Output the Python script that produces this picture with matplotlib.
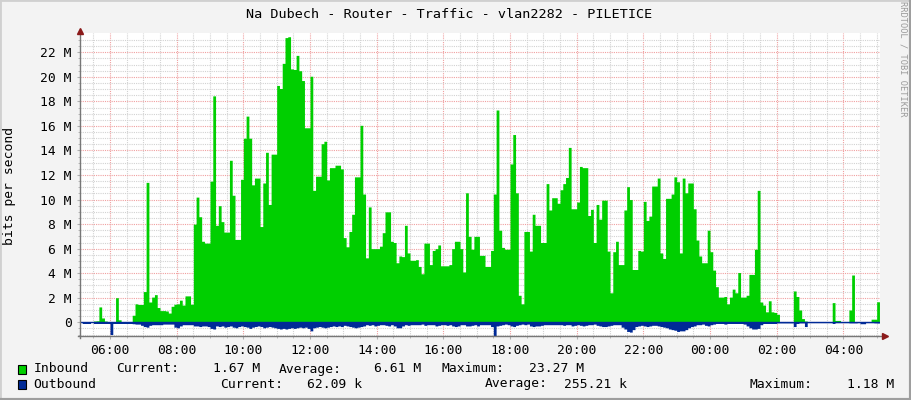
import numpy as np
import pandas as pd
import matplotlib
matplotlib.use("Agg")
import matplotlib.pyplot as plt
import matplotlib.dates as mdates
from matplotlib.lines import Line2D
from matplotlib.patches import Rectangle

title = "Na Dubech - Router - Traffic - vlan2282 - PILETICE"
ylabel = "bits per second"
credit = "RRDTOOL / TOBI OETIKER"

# 5 minute samples, values in Mbit/s
start = "2024-01-01 05:10"
view_start = "2024-01-01 05:06"
step = "5min"

inbound = [
    0.05,
    0.05, 0.03, 0.05, 0.1, 0.12, 1.25, 0.35, 0.1, 0.02, 0.02, 0.02, 2.0,
    0.2, 0.05, 0.05, 0.05, 0.05, 0.57, 1.5, 1.45, 1.45, 2.5, 11.4, 1.65,
    2.05, 2.25, 1.2, 0.95, 0.95, 0.92, 0.75, 1.3, 1.47, 1.5, 1.8, 1.4,
    2.15, 2.15, 1.47, 8.0, 10.2, 8.6, 6.6, 6.45, 6.45, 11.5, 18.45, 7.9,
    9.5, 8.2, 7.35, 7.35, 13.2, 10.35, 6.75, 6.75, 11.65, 15.0, 16.8, 15.0,
    11.2, 11.75, 11.75, 7.8, 11.35, 13.85, 9.6, 13.7, 13.7, 19.3, 19.05, 21.1,
    23.2, 23.27, 20.65, 20.6, 21.75, 20.5, 19.7, 15.85, 15.85, 20.05, 10.75, 11.9,
    11.9, 14.55, 14.75, 11.6, 12.6, 12.6, 12.8, 12.8, 12.5, 6.9, 6.15, 7.4,
    8.8, 11.85, 11.85, 16.05, 10.45, 5.25, 9.4, 6.0, 6.0, 6.0, 6.2, 7.3,
    9.0, 9.0, 6.6, 6.5, 4.85, 5.4, 5.35, 7.9, 5.65, 5.05, 5.05, 5.1,
    4.55, 3.95, 6.45, 6.45, 4.7, 5.85, 6.0, 6.3, 4.6, 4.6, 4.6, 4.7,
    6.0, 6.6, 6.6, 6.0, 4.1, 10.55, 7.0, 5.95, 7.0, 7.0, 5.45, 5.45,
    4.55, 4.55, 5.85, 10.45, 17.3, 7.5, 6.1, 5.95, 5.95, 12.9, 15.3, 10.55,
    2.2, 1.5, 7.4, 7.4, 5.8, 8.8, 7.9, 7.9, 6.5, 6.5, 11.3, 9.15,
    10.15, 10.15, 9.7, 10.8, 11.3, 11.8, 14.25, 9.25, 9.25, 9.8, 12.7, 12.6,
    12.6, 8.7, 9.2, 6.5, 9.6, 8.4, 9.95, 9.95, 5.8, 2.4, 5.75, 6.6,
    4.7, 4.7, 9.15, 11.05, 10.0, 4.3, 4.3, 5.85, 5.8, 9.85, 8.3, 8.65,
    11.1, 11.1, 11.75, 5.65, 5.2, 10.1, 10.1, 10.45, 11.85, 11.45, 5.65, 11.75,
    10.55, 11.35, 11.35, 9.25, 6.7, 5.4, 4.85, 4.85, 7.5, 5.75, 4.25, 2.9,
    2.05, 2.05, 2.1, 1.5, 2.05, 2.7, 2.4, 4.05, 2.05, 2.05, 2.2, 3.9,
    3.9, 5.95, 10.75, 1.65, 1.4, 0.85, 1.75, 0.85, 0.8, 0.65, 0.05, 0.05,
    0.05, 0.05, 0.05, 2.55, 2.1, 1.0, 0.3, 0.1, 0.03, 0.03, 0.03, 0.03,
    0.03, 0.03, 0.03, 0.03, 0.03, 1.6, 0.15, 0.15, 0.03, 0.03, 0.03, 1.0,
    3.85, 0.05, 0.05, 0.05, 0.05, 0.05, 0.05, 0.25, 0.25, 1.67,
]

outbound = [
    0.1,
    0.1, 0.1, 0.0, 0.1, 0.1, 0.1, 0.1, 0.1, 0.1, 1.0, 0.1, 0.1,
    0.1, 0.1, 0.1, 0.1, 0.1, 0.12, 0.15, 0.15, 0.25, 0.35, 0.4, 0.25,
    0.2, 0.2, 0.2, 0.2, 0.15, 0.15, 0.15, 0.15, 0.4, 0.45, 0.3, 0.2,
    0.2, 0.2, 0.2, 0.3, 0.3, 0.35, 0.3, 0.3, 0.35, 0.5, 0.55, 0.3,
    0.35, 0.3, 0.4, 0.35, 0.3, 0.4, 0.45, 0.35, 0.3, 0.35, 0.4, 0.5,
    0.4, 0.35, 0.3, 0.35, 0.45, 0.4, 0.35, 0.4, 0.45, 0.5, 0.55, 0.5,
    0.55, 0.5, 0.45, 0.5, 0.45, 0.4, 0.45, 0.4, 0.5, 0.7, 0.45, 0.4,
    0.35, 0.4, 0.45, 0.4, 0.35, 0.3, 0.35, 0.3, 0.35, 0.25, 0.3, 0.35,
    0.4, 0.45, 0.4, 0.35, 0.3, 0.2, 0.25, 0.2, 0.3, 0.25, 0.2, 0.2,
    0.25, 0.3, 0.2, 0.3, 0.45, 0.45, 0.3, 0.2, 0.25, 0.2, 0.2, 0.2,
    0.2, 0.15, 0.25, 0.2, 0.2, 0.2, 0.3, 0.25, 0.2, 0.2, 0.25, 0.2,
    0.3, 0.35, 0.3, 0.2, 0.2, 0.3, 0.3, 0.25, 0.2, 0.3, 0.2, 0.2,
    0.2, 0.2, 0.35, 1.18, 0.3, 0.25, 0.2, 0.15, 0.2, 0.3, 0.35, 0.25,
    0.2, 0.15, 0.2, 0.15, 0.3, 0.35, 0.3, 0.3, 0.25, 0.2, 0.2, 0.2,
    0.2, 0.2, 0.2, 0.2, 0.25, 0.2, 0.2, 0.3, 0.25, 0.2, 0.25, 0.3,
    0.25, 0.2, 0.2, 0.15, 0.25, 0.3, 0.35, 0.35, 0.3, 0.25, 0.2, 0.2,
    0.2, 0.4, 0.55, 0.75, 0.8, 0.6, 0.35, 0.3, 0.25, 0.3, 0.35, 0.3,
    0.25, 0.25, 0.3, 0.35, 0.4, 0.45, 0.55, 0.6, 0.65, 0.75, 0.7, 0.7,
    0.6, 0.45, 0.35, 0.3, 0.2, 0.2, 0.15, 0.25, 0.3, 0.2, 0.15, 0.1,
    0.1, 0.1, 0.15, 0.1, 0.1, 0.1, 0.1, 0.1, 0.1, 0.15, 0.3, 0.45,
    0.55, 0.55, 0.5, 0.2, 0.1, 0.1, 0.1, 0.1, 0.1, 0.05, 0.05, 0.05,
    0.05, 0.05, 0.05, 0.35, 0.1, 0.05, 0.05, 0.35, 0.03, 0.03, 0.03, 0.03,
    0.03, 0.03, 0.03, 0.03, 0.03, 0.1, 0.03, 0.03, 0.03, 0.03, 0.03, 0.05,
    0.05, 0.05, 0.03, 0.12, 0.12, 0.03, 0.03, 0.03, 0.05, 0.06,
]

ytick_vals = list(range(0, 23, 2))
ytick_labels = ["0"] + ["%d M" % v for v in ytick_vals[1:]]

legend_rows = [
    ("Inbound", "#00CF00",
     [("Current:", 116), ("1.67 M", 213), ("Average:", 279), ("6.61 M", 374),
      ("Maximum:", 441), ("23.27 M", 529)]),
    ("Outbound", "#002A97",
     [("Current:", 220), ("62.09 k", 307), ("Average:", 485), ("255.21 k", 564),
      ("Maximum:", 750), ("1.18 M", 847)]),
]

W, H = 911, 400
font = "DejaVu Sans Mono"
fs = 9.4

times = pd.date_range(start, periods=len(inbound) + 1, freq=step)
inb = np.append(inbound, inbound[-1])
outb = np.append(outbound, outbound[-1])

fig = plt.figure(figsize=(W / 100, H / 100), dpi=100, facecolor="#F3F3F3")
ax = fig.add_axes([80 / W, (H - 336) / H, 800 / W, (336 - 33.3) / H])
ax.set_facecolor("white")

ax.fill_between(times, 0, inb, step="post", color="#00CF00", lw=0)
ax.fill_between(times, 0, -outb, step="post", color="#002A97", lw=0)
ax.axhline(0, color="#002A97", lw=1)

x0 = pd.Timestamp(view_start)
ax.set_xlim(x0, x0 + pd.Timedelta(hours=24))
ax.set_ylim(-1.12, 23.55)

ax.xaxis.set_major_locator(mdates.HourLocator(byhour=range(0, 24, 2)))
ax.xaxis.set_minor_locator(mdates.MinuteLocator(byminute=[0, 30]))
ax.xaxis.set_major_formatter(mdates.DateFormatter("%H:%M"))
ax.set_yticks(ytick_vals)
ax.set_yticklabels(ytick_labels)
ax.set_yticks(np.arange(-1.0, 23.5, 0.5), minor=True)

ax.set_axisbelow(True)
ax.grid(which="minor", color="#D2D2D2", linestyle=(0, (1, 1)), lw=0.8)
ax.grid(which="major", color="#F0A0A0", linestyle=(0, (1, 1)), lw=0.8)

for s in ax.spines.values():
    s.set_visible(False)
ax.tick_params(which="both", length=2, color="#B0B0B0", pad=4)
ax.tick_params(which="minor", length=1.5)
for lab in ax.get_xticklabels() + ax.get_yticklabels():
    lab.set_fontfamily(font)
    lab.set_fontsize(fs)

# axes with arrows
ax.add_line(Line2D([-0.003, 1.003], [0, 0], transform=ax.transAxes,
                   color="#777777", lw=1, clip_on=False))
ax.add_line(Line2D([0, 0], [-0.007, 1.005], transform=ax.transAxes,
                   color="#777777", lw=1, clip_on=False))
ax.plot([1.006], [0], marker=">", ms=4.5, color="#8B1A1A",
        transform=ax.transAxes, clip_on=False)
ax.plot([0], [1.008], marker="^", ms=4.5, color="#8B1A1A",
        transform=ax.transAxes, clip_on=False)

fig.text(449 / W, 1 - 15 / H, title, ha="center", va="center",
         family=font, fontsize=9.7)
fig.text(10 / W, 1 - 186 / H, ylabel, ha="center", va="center",
         rotation=90, family=font, fontsize=fs)
fig.text(903 / W, 1 - 59 / H, credit, ha="center", va="center",
         rotation=270, family=font, fontsize=6.2, color="#9A9A9A")

for i, (name, color, items) in enumerate(legend_rows):
    yc = 369 + 15 * i
    fig.patches.append(Rectangle((18 / W, 1 - (yc + 4.5) / H), 8 / W, 9 / H,
                                 transform=fig.transFigure, facecolor=color,
                                 edgecolor="black", lw=0.8))
    fig.text(33.5 / W, 1 - yc / H, name, ha="left", va="center",
             family=font, fontsize=fs)
    for txt, xpos in items:
        fig.text(xpos / W, 1 - yc / H, txt, ha="left", va="center",
                 family=font, fontsize=fs)

# image border
fig.add_artist(Line2D([0, 1], [1, 1], transform=fig.transFigure,
                      color="#D0D0D0", lw=2))
fig.add_artist(Line2D([0, 0], [0, 1], transform=fig.transFigure,
                      color="#D0D0D0", lw=2))
fig.add_artist(Line2D([0, 1], [0, 0], transform=fig.transFigure,
                      color="#9E9E9E", lw=3))
fig.add_artist(Line2D([1, 1], [0, 1], transform=fig.transFigure,
                      color="#9E9E9E", lw=3))

fig.savefig("out.png", dpi=100, facecolor=fig.get_facecolor())
